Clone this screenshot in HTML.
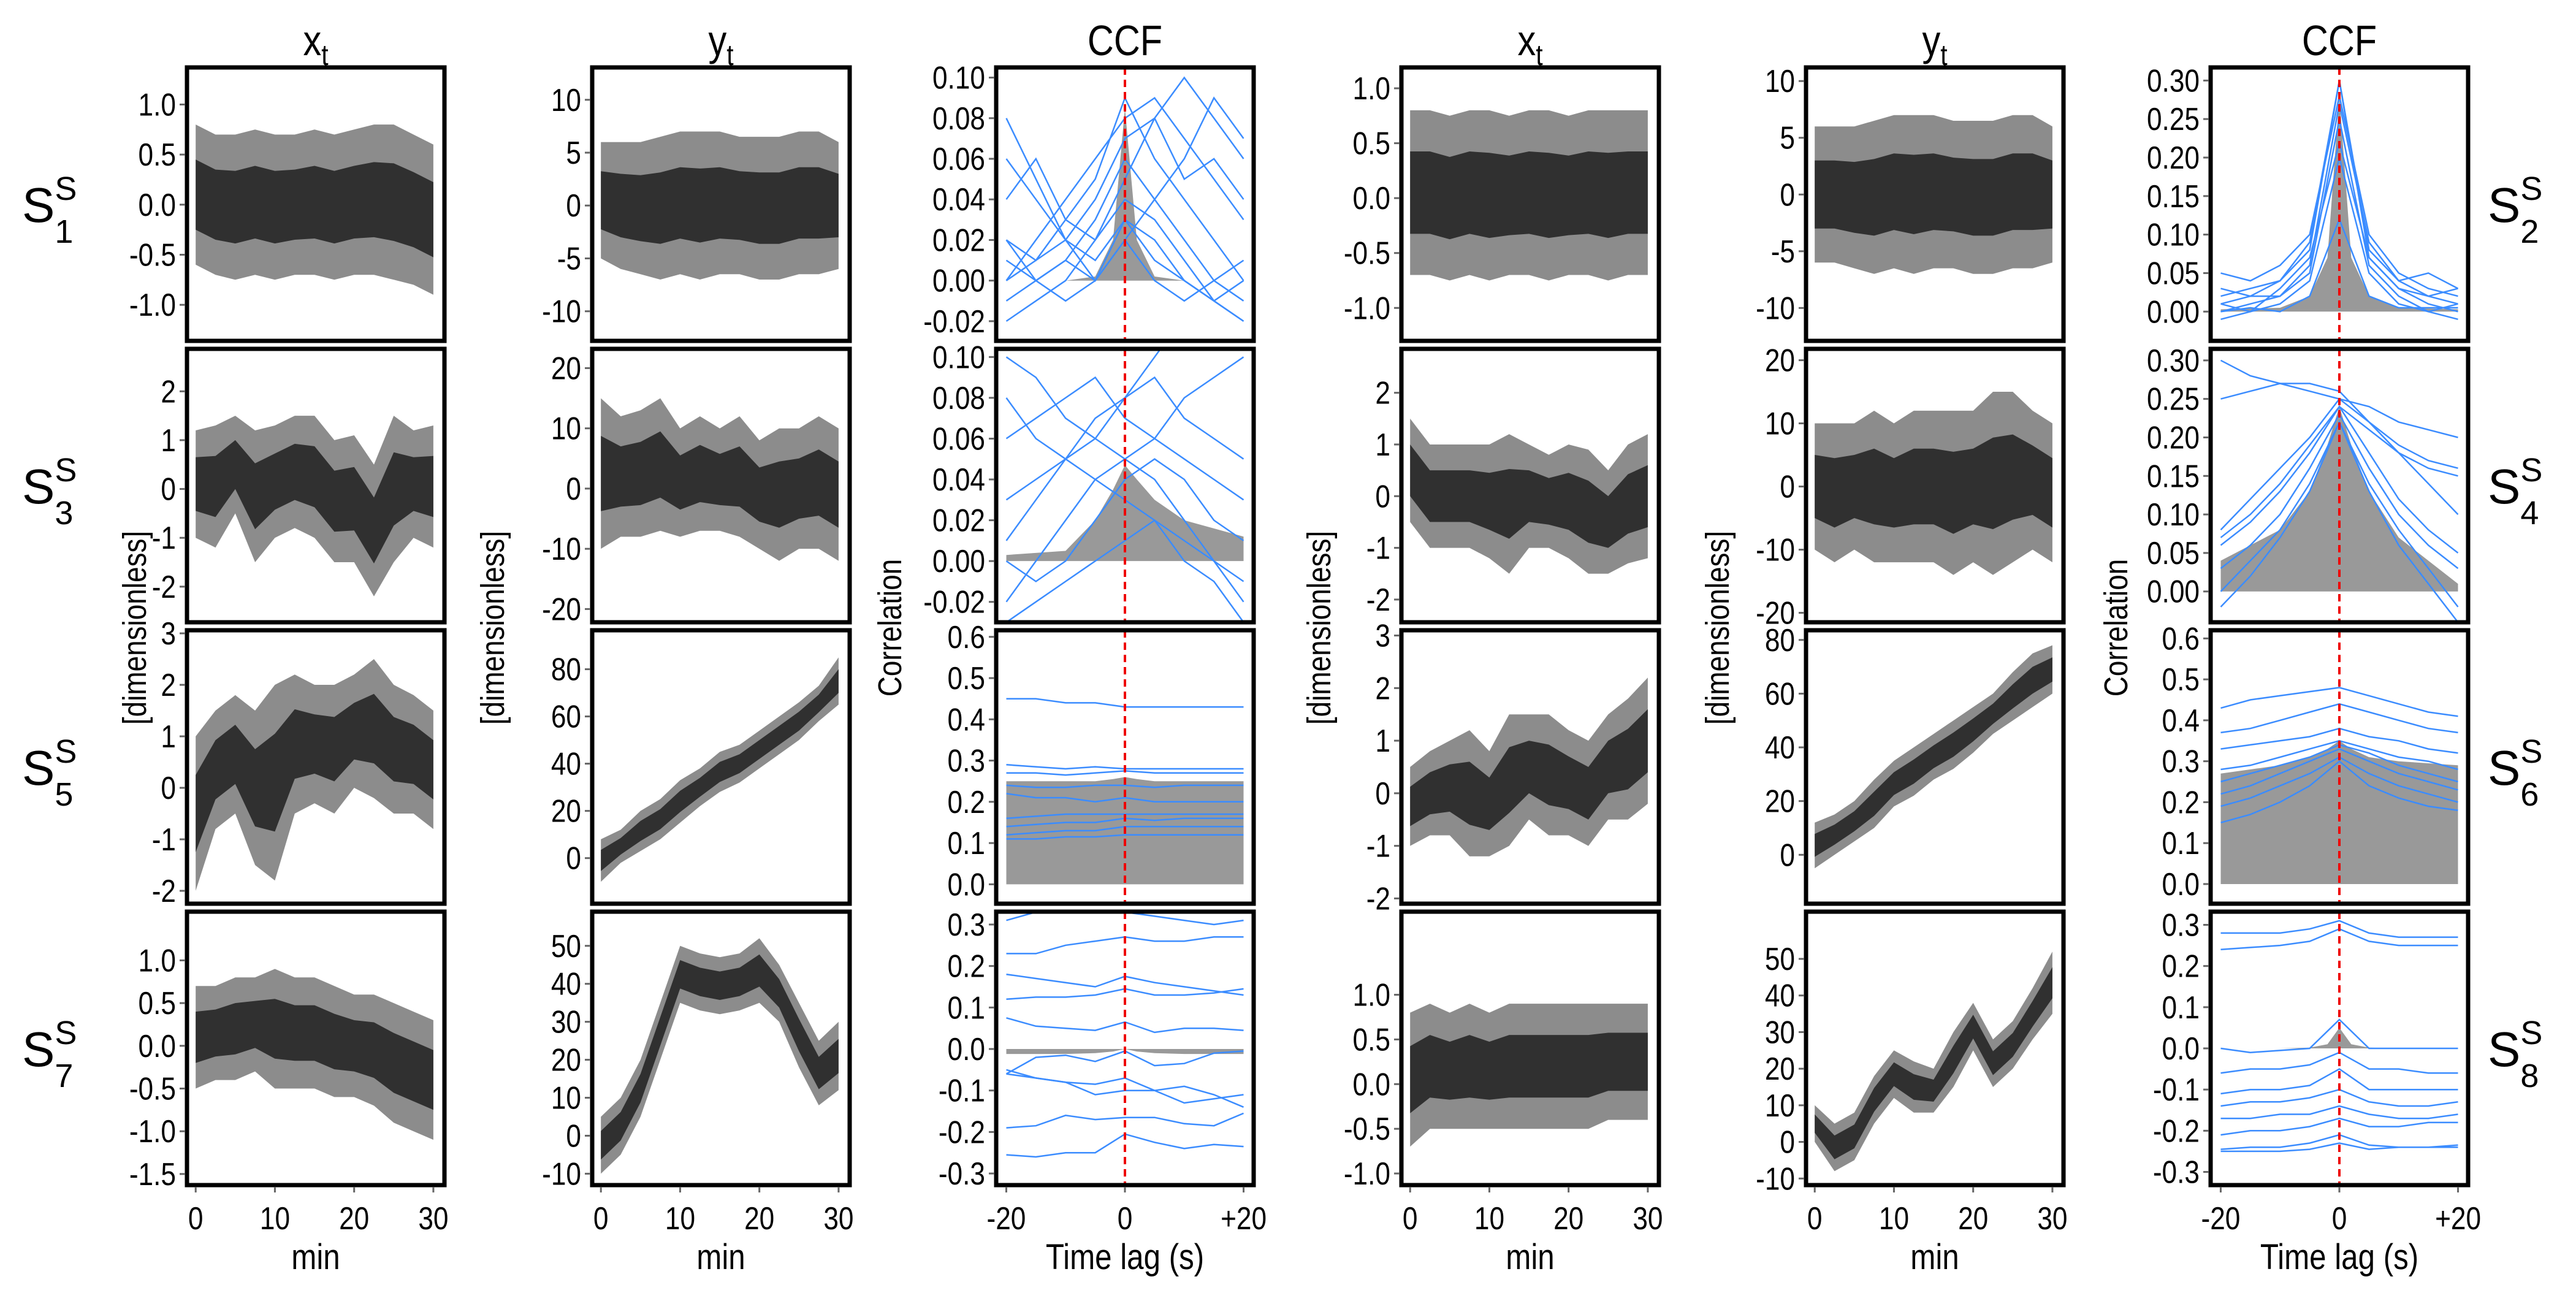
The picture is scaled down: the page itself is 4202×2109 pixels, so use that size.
<!DOCTYPE html>
<html><head><meta charset="utf-8">
<style>
html,body{margin:0;padding:0;background:#fff;}
svg{display:block;font-family:"Liberation Sans",sans-serif;}
</style></head>
<body>
<svg id="fig" xmlns="http://www.w3.org/2000/svg" width="4202" height="2109" viewBox="0 0 4202 2109">
<rect x="0" y="0" width="4202" height="2109" fill="#fff"/>
<g font-size="70" text-anchor="middle" fill="#000">
<text transform="translate(515,90) scale(0.85,1)">x<tspan font-size="48" dy="16">t</tspan></text>
<text transform="translate(1176,90) scale(0.85,1)">y<tspan font-size="48" dy="16">t</tspan></text>
<text transform="translate(1835,90) scale(0.85,1)">CCF</text>
<text transform="translate(2496,90) scale(0.85,1)">x<tspan font-size="48" dy="16">t</tspan></text>
<text transform="translate(3156,90) scale(0.85,1)">y<tspan font-size="48" dy="16">t</tspan></text>
<text transform="translate(3816,90) scale(0.85,1)">CCF</text>
</g>
<g font-size="54" text-anchor="middle" fill="#000">
<text transform="translate(238,1024) rotate(-90) scale(0.85,1)">[dimensionless]</text>
<text transform="translate(822,1024) rotate(-90) scale(0.85,1)">[dimensionless]</text>
<text transform="translate(1470,1024) rotate(-90) scale(0.85,1)">Correlation</text>
<text transform="translate(2170,1024) rotate(-90) scale(0.85,1)">[dimensionless]</text>
<text transform="translate(2820,1024) rotate(-90) scale(0.85,1)">[dimensionless]</text>
<text transform="translate(3470,1024) rotate(-90) scale(0.85,1)">Correlation</text>
</g>
<g font-size="58" text-anchor="middle" fill="#000">
<text transform="translate(515,2070) scale(0.85,1)">min</text>
<text transform="translate(1176,2070) scale(0.85,1)">min</text>
<text transform="translate(1835,2070) scale(0.85,1)">Time lag (s)</text>
<text transform="translate(2496,2070) scale(0.85,1)">min</text>
<text transform="translate(3156,2070) scale(0.85,1)">min</text>
<text transform="translate(3816,2070) scale(0.85,1)">Time lag (s)</text>
</g>
<g font-size="80" fill="#000">
<text x="36" y="362">S<tspan font-size="54" dy="-36">S</tspan><tspan font-size="54" dx="-36" dy="70">1</tspan></text>
<text x="36" y="821">S<tspan font-size="54" dy="-36">S</tspan><tspan font-size="54" dx="-36" dy="70">3</tspan></text>
<text x="36" y="1280">S<tspan font-size="54" dy="-36">S</tspan><tspan font-size="54" dx="-36" dy="70">5</tspan></text>
<text x="36" y="1739">S<tspan font-size="54" dy="-36">S</tspan><tspan font-size="54" dx="-36" dy="70">7</tspan></text>
<text x="4058" y="362">S<tspan font-size="54" dy="-36">S</tspan><tspan font-size="54" dx="-36" dy="70">2</tspan></text>
<text x="4058" y="821">S<tspan font-size="54" dy="-36">S</tspan><tspan font-size="54" dx="-36" dy="70">4</tspan></text>
<text x="4058" y="1280">S<tspan font-size="54" dy="-36">S</tspan><tspan font-size="54" dx="-36" dy="70">6</tspan></text>
<text x="4058" y="1739">S<tspan font-size="54" dy="-36">S</tspan><tspan font-size="54" dx="-36" dy="70">8</tspan></text>
</g>
<g id="panels"></g>
</svg>
<script>
// ---------- data ----------
const timeGrid = [0,2.5,5,7.5,10,12.5,15,17.5,20,22.5,25,27.5,30];
const lagGrid = [-20,-15,-10,-5,0,5,10,15,20];
const grayLags = [-20,-10,-5,-2,0,2,5,10,20];
const timeTicks = [0,10,20,30];
const lagTicks = [-20,0,20];
const lagTickLabels = ["-20","0","+20"];

const s1xUpper = [0.8,0.7,0.7,0.75,0.7,0.7,0.75,0.7,0.75,0.8,0.8,0.7,0.6];
const s1xLower = [-0.6,-0.7,-0.75,-0.7,-0.75,-0.7,-0.7,-0.75,-0.7,-0.7,-0.75,-0.8,-0.9];
const s3xUpper = [1.2,1.3,1.5,1.2,1.3,1.5,1.5,1.0,1.1,0.5,1.5,1.2,1.3];
const s3xLower = [-1.0,-1.2,-0.5,-1.5,-1.0,-0.8,-1.0,-1.5,-1.5,-2.2,-1.5,-1.0,-1.2];
const s5xUpper = [1.0,1.5,1.8,1.5,2.0,2.2,2.0,2.0,2.2,2.5,2.0,1.8,1.5];
const s5xLower = [-2.0,-0.8,-0.5,-1.5,-1.8,-0.5,-0.3,-0.5,0.0,-0.2,-0.5,-0.5,-0.8];
const s7xUpper = [0.7,0.7,0.8,0.8,0.9,0.8,0.8,0.7,0.6,0.6,0.5,0.4,0.3];
const s7xLower = [-0.5,-0.4,-0.4,-0.3,-0.5,-0.5,-0.5,-0.6,-0.6,-0.7,-0.9,-1.0,-1.1];
const s1yUpper = [6,6,6,6.5,7,7,7,6.5,6.5,6.5,7,7,6];
const s1yLower = [-5,-6,-6.5,-7,-6.5,-7,-6.5,-6.5,-7,-7,-6.5,-6.5,-6];
const s3yUpper = [15,12,13,15,10,12,10,12,8,10,10,12,10];
const s3yLower = [-10,-8,-8,-7,-8,-7,-7,-8,-10,-12,-10,-10,-12];
const s5yUpper = [8,12,20,25,33,38,45,48,54,60,66,73,85];
const s5yLower = [-10,-2,3,8,15,22,28,32,38,44,50,58,65];
const s7yUpper = [5,10,20,35,50,48,47,48,52,45,35,25,30];
const s7yLower = [-10,-5,5,20,35,33,32,33,35,30,18,8,12];
const s2xUpper = [0.8,0.8,0.75,0.8,0.8,0.75,0.8,0.8,0.75,0.8,0.8,0.8,0.8];
const s2xLower = [-0.7,-0.7,-0.75,-0.7,-0.75,-0.7,-0.7,-0.75,-0.7,-0.7,-0.75,-0.7,-0.7];
const s4xUpper = [1.5,1.0,1.0,1.0,1.0,1.2,1.0,0.8,1.0,0.9,0.5,1.0,1.2];
const s4xLower = [-0.5,-1.0,-1.0,-1.0,-1.2,-1.5,-1.0,-1.0,-1.2,-1.5,-1.5,-1.3,-1.2];
const s6xUpper = [0.5,0.8,1.0,1.2,0.8,1.5,1.5,1.5,1.2,1.0,1.5,1.8,2.2];
const s6xLower = [-1.0,-0.8,-0.8,-1.2,-1.2,-1.0,-0.5,-0.8,-0.8,-1.0,-0.5,-0.5,-0.2];
const s8xUpper = [0.8,0.9,0.8,0.9,0.8,0.9,0.9,0.9,0.9,0.9,0.9,0.9,0.9];
const s8xLower = [-0.7,-0.5,-0.5,-0.5,-0.5,-0.5,-0.5,-0.5,-0.5,-0.5,-0.4,-0.4,-0.4];
const s2yUpper = [6,6,6,6.5,7,7,7,6.5,6.5,6.5,7,7,6];
const s2yLower = [-6,-6,-6.5,-7,-6.5,-7,-6.5,-6.5,-7,-7,-6.5,-6.5,-6];
const s4yUpper = [10,10,10,12,10,12,12,12,12,15,15,12,10];
const s4yLower = [-10,-12,-10,-12,-12,-12,-12,-14,-12,-14,-12,-10,-12];
const s6yUpper = [12,15,20,28,35,40,45,50,55,60,68,75,78];
const s6yLower = [-5,0,5,10,18,22,28,32,38,45,50,55,60];
const s8yUpper = [10,5,8,18,25,22,20,30,38,28,33,42,52];
const s8yLower = [0,-8,-5,5,12,8,8,15,25,15,20,28,35];

const ccf1Gray = [0,0,0.002,0.02,0.085,0.02,0.002,0,0];
const ccf1Lines = [
 [0.02,0.01,0.03,0.05,0.09,0.06,0.04,0.02,0.0],
 [0.0,0.02,0.04,0.06,0.08,0.09,0.07,0.05,0.03],
 [-0.01,0.0,0.01,0.03,0.06,0.04,0.02,0.0,-0.01],
 [0.04,0.06,0.03,0.02,0.05,0.08,0.10,0.08,0.06],
 [0.01,0.0,-0.01,0.0,0.03,0.01,0.0,-0.01,0.0],
 [0.06,0.04,0.02,0.0,0.02,0.04,0.06,0.09,0.07],
 [-0.02,-0.01,0.0,0.02,0.04,0.03,0.01,-0.01,-0.02],
 [0.08,0.05,0.02,0.01,0.03,0.02,0.0,-0.01,-0.02],
 [0.0,0.01,0.02,0.04,0.07,0.08,0.05,0.06,0.04],
 [0.02,0.0,0.01,0.0,0.02,0.0,-0.01,0.0,0.01]];
const ccf3Gray = [0.003,0.005,0.02,0.035,0.047,0.04,0.03,0.02,0.012];
const ccf3Lines = [
 [0.10,0.09,0.07,0.06,0.05,0.04,0.02,0.0,-0.02],
 [0.06,0.07,0.08,0.09,0.07,0.06,0.05,0.04,0.03],
 [-0.02,0.0,0.02,0.04,0.05,0.06,0.08,0.09,0.10],
 [0.03,0.04,0.05,0.04,0.03,0.02,0.0,-0.01,-0.03],
 [0.01,0.03,0.05,0.07,0.08,0.10,0.12,0.13,0.14],
 [0.0,-0.01,0.0,0.02,0.04,0.05,0.04,0.02,0.01],
 [-0.03,-0.02,-0.01,0.0,0.01,0.02,0.01,0.0,-0.01],
 [0.08,0.06,0.05,0.06,0.08,0.09,0.07,0.06,0.05]];
const ccf5Gray = [0.25,0.25,0.25,0.255,0.26,0.255,0.25,0.25,0.25];
const ccf5Lines = [
 [0.45,0.45,0.44,0.44,0.43,0.43,0.43,0.43,0.43],
 [0.29,0.285,0.28,0.285,0.28,0.28,0.28,0.28,0.28],
 [0.27,0.27,0.265,0.27,0.275,0.27,0.27,0.27,0.27],
 [0.24,0.235,0.235,0.24,0.24,0.235,0.24,0.24,0.24],
 [0.22,0.21,0.21,0.2,0.21,0.2,0.2,0.2,0.2],
 [0.16,0.165,0.17,0.17,0.17,0.17,0.17,0.17,0.17],
 [0.14,0.145,0.15,0.15,0.16,0.155,0.16,0.16,0.16],
 [0.12,0.125,0.13,0.13,0.14,0.14,0.14,0.14,0.14],
 [0.11,0.11,0.115,0.115,0.12,0.12,0.12,0.12,0.12]];
const ccf7Gray = [-0.012,-0.012,-0.01,-0.006,0,-0.006,-0.01,-0.012,-0.012];
const ccf7Lines = [
 [0.31,0.33,0.34,0.33,0.33,0.32,0.31,0.30,0.31],
 [0.23,0.23,0.25,0.26,0.27,0.26,0.26,0.27,0.27],
 [0.18,0.17,0.16,0.15,0.175,0.16,0.15,0.14,0.13],
 [0.12,0.125,0.125,0.13,0.145,0.13,0.13,0.135,0.145],
 [0.075,0.055,0.05,0.045,0.065,0.04,0.05,0.05,0.045],
 [-0.06,-0.02,-0.015,-0.03,-0.005,-0.04,-0.035,-0.01,-0.005],
 [-0.06,-0.07,-0.08,-0.085,-0.07,-0.1,-0.09,-0.11,-0.14],
 [-0.05,-0.07,-0.08,-0.11,-0.1,-0.1,-0.13,-0.12,-0.11],
 [-0.19,-0.185,-0.16,-0.17,-0.165,-0.165,-0.18,-0.185,-0.155],
 [-0.255,-0.26,-0.25,-0.25,-0.205,-0.225,-0.24,-0.23,-0.235]];
const ccf2Gray = [0.003,0.005,0.02,0.07,0.28,0.07,0.02,0.005,0.003];
const ccf2Lines = [
 [0.02,0.03,0.04,0.08,0.30,0.08,0.04,0.02,0.01],
 [0.05,0.04,0.06,0.10,0.28,0.10,0.05,0.03,0.02],
 [0.0,0.01,0.02,0.05,0.25,0.06,0.02,0.0,0.01],
 [0.01,0.0,0.03,0.07,0.22,0.07,0.03,0.02,0.03],
 [-0.01,0.0,0.01,0.04,0.20,0.05,0.01,0.0,-0.01],
 [0.03,0.02,0.02,0.06,0.27,0.09,0.04,0.05,0.03],
 [0.0,0.005,0.0,0.02,0.12,0.02,0.005,0.005,0.005],
 [0.01,0.02,0.04,0.09,0.30,0.07,0.03,0.01,0.0]];
const ccf4Gray = [0.04,0.08,0.13,0.19,0.24,0.19,0.13,0.07,0.01];
const ccf4Lines = [
 [0.30,0.28,0.27,0.26,0.25,0.24,0.22,0.21,0.20],
 [0.25,0.26,0.27,0.27,0.26,0.22,0.18,0.16,0.15],
 [0.08,0.12,0.16,0.20,0.25,0.22,0.19,0.17,0.16],
 [0.06,0.09,0.13,0.18,0.24,0.18,0.12,0.08,0.05],
 [0.03,0.06,0.10,0.16,0.23,0.16,0.10,0.06,0.03],
 [0.00,0.04,0.08,0.14,0.22,0.14,0.08,0.03,-0.02],
 [-0.02,0.02,0.07,0.13,0.22,0.13,0.06,0.01,-0.04],
 [0.07,0.10,0.14,0.19,0.24,0.21,0.18,0.14,0.10]];
const ccf6Gray = [0.27,0.29,0.31,0.33,0.35,0.33,0.31,0.30,0.29];
const ccf6Lines = [
 [0.43,0.45,0.46,0.47,0.48,0.46,0.44,0.42,0.41],
 [0.37,0.38,0.40,0.42,0.44,0.42,0.40,0.38,0.37],
 [0.33,0.34,0.35,0.36,0.38,0.36,0.35,0.33,0.32],
 [0.28,0.29,0.31,0.33,0.35,0.33,0.31,0.30,0.28],
 [0.25,0.27,0.29,0.31,0.34,0.32,0.29,0.27,0.25],
 [0.22,0.24,0.27,0.30,0.33,0.30,0.27,0.25,0.23],
 [0.19,0.21,0.24,0.27,0.31,0.27,0.24,0.22,0.20],
 [0.15,0.17,0.20,0.24,0.30,0.24,0.21,0.19,0.18]];
const ccf8Gray = [0,0,0.002,0.01,0.05,0.01,0.002,0,0];
const ccf8Lines = [
 [0.28,0.28,0.28,0.29,0.31,0.28,0.27,0.27,0.27],
 [0.24,0.245,0.25,0.26,0.29,0.26,0.25,0.25,0.25],
 [0.0,-0.01,-0.005,0.0,0.07,0.0,0.0,0.0,0.0],
 [-0.06,-0.05,-0.05,-0.04,-0.01,-0.05,-0.05,-0.06,-0.06],
 [-0.11,-0.1,-0.1,-0.09,-0.05,-0.1,-0.1,-0.1,-0.1],
 [-0.14,-0.13,-0.13,-0.12,-0.1,-0.13,-0.14,-0.14,-0.13],
 [-0.17,-0.17,-0.16,-0.16,-0.14,-0.16,-0.17,-0.17,-0.16],
 [-0.21,-0.2,-0.2,-0.19,-0.17,-0.19,-0.19,-0.18,-0.18],
 [-0.245,-0.24,-0.24,-0.23,-0.21,-0.235,-0.24,-0.24,-0.235],
 [-0.25,-0.25,-0.25,-0.245,-0.23,-0.245,-0.24,-0.24,-0.24]];

const ticksX1 = [-1,-0.5,0,0.5,1];
const ticksX2 = [-2,-1,0,1,2];
const ticksX3 = [-2,-1,0,1,2,3];
const ticksX4 = [-1.5,-1,-0.5,0,0.5,1];
const ticksY1 = [-10,-5,0,5,10];
const ticksY2 = [-20,-10,0,10,20];
const ticksY3 = [0,20,40,60,80];
const ticksY4 = [-10,0,10,20,30,40,50];
const ticksCcfA = [-0.02,0,0.02,0.04,0.06,0.08,0.10];
const ticksCcfB = [0,0.1,0.2,0.3,0.4,0.5,0.6];
const ticksCcfC = [-0.3,-0.2,-0.1,0,0.1,0.2,0.3];
const ticksCcfD = [0,0.05,0.1,0.15,0.2,0.25,0.3];

// ---------- layout ----------
const COLX = [305,966,1625,2286,2946,3606], PW = 420;
const ROWY = [110,569,1028,1487], PH = 446;
const panels = [
 {c:0,r:0,k:'ts',n:'s1-x',up:s1xUpper,lo:s1xLower,y0:-1.36,y1:1.37,t:ticksX1,d:1},
 {c:0,r:1,k:'ts',n:'s3-x',up:s3xUpper,lo:s3xLower,y0:-2.73,y1:2.87,t:ticksX2,d:0},
 {c:0,r:2,k:'ts',n:'s5-x',up:s5xUpper,lo:s5xLower,y0:-2.25,y1:3.06,t:ticksX3,d:0},
 {c:0,r:3,k:'ts',n:'s7-x',up:s7xUpper,lo:s7xLower,y0:-1.63,y1:1.57,t:ticksX4,d:1},
 {c:1,r:0,k:'ts',n:'s1-y',up:s1yUpper,lo:s1yLower,y0:-12.8,y1:13.06,t:ticksY1,d:0},
 {c:1,r:1,k:'ts',n:'s3-y',up:s3yUpper,lo:s3yLower,y0:-22.2,y1:23.2,t:ticksY2,d:0},
 {c:1,r:2,k:'ts',n:'s5-y',up:s5yUpper,lo:s5yLower,y0:-19.3,y1:96.5,t:ticksY3,d:0},
 {c:1,r:3,k:'ts',n:'s7-y',up:s7yUpper,lo:s7yLower,y0:-13,y1:59,t:ticksY4,d:0},
 {c:2,r:0,k:'ccf',n:'s1-ccf',g:ccf1Gray,l:ccf1Lines,y0:-0.0297,y1:0.105,t:ticksCcfA,d:2},
 {c:2,r:1,k:'ccf',n:'s3-ccf',g:ccf3Gray,l:ccf3Lines,y0:-0.030,y1:0.104,t:ticksCcfA,d:2},
 {c:2,r:2,k:'ccf',n:'s5-ccf',g:ccf5Gray,l:ccf5Lines,y0:-0.047,y1:0.616,t:ticksCcfB,d:1},
 {c:2,r:3,k:'ccf',n:'s7-ccf',g:ccf7Gray,l:ccf7Lines,y0:-0.328,y1:0.331,t:ticksCcfC,d:1},
 {c:3,r:0,k:'ts',n:'s2-x',up:s2xUpper,lo:s2xLower,y0:-1.3,y1:1.19,t:ticksX1,d:1},
 {c:3,r:1,k:'ts',n:'s4-x',up:s4xUpper,lo:s4xLower,y0:-2.44,y1:2.85,t:ticksX2,d:0},
 {c:3,r:2,k:'ts',n:'s6-x',up:s6xUpper,lo:s6xLower,y0:-2.1,y1:3.1,t:ticksX3,d:0},
 {c:3,r:3,k:'ts',n:'s8-x',up:s8xUpper,lo:s8xLower,y0:-1.13,y1:1.93,t:ticksX1,d:1},
 {c:4,r:0,k:'ts',n:'s2-y',up:s2yUpper,lo:s2yLower,y0:-12.9,y1:11.2,t:ticksY1,d:0},
 {c:4,r:1,k:'ts',n:'s4-y',up:s4yUpper,lo:s4yLower,y0:-21.5,y1:21.8,t:ticksY2,d:0},
 {c:4,r:2,k:'ts',n:'s6-y',up:s6yUpper,lo:s6yLower,y0:-18.2,y1:83.6,t:ticksY3,d:0},
 {c:4,r:3,k:'ts',n:'s8-y',up:s8yUpper,lo:s8yLower,y0:-11.8,y1:62.9,t:ticksY4,d:0},
 {c:5,r:0,k:'ccf',n:'s2-ccf',g:ccf2Gray,l:ccf2Lines,y0:-0.038,y1:0.317,t:ticksCcfD,d:2},
 {c:5,r:1,k:'ccf',n:'s4-ccf',g:ccf4Gray,l:ccf4Lines,y0:-0.04,y1:0.315,t:ticksCcfD,d:2},
 {c:5,r:2,k:'ccf',n:'s6-ccf',g:ccf6Gray,l:ccf6Lines,y0:-0.048,y1:0.62,t:ticksCcfB,d:1},
 {c:5,r:3,k:'ccf',n:'s8-ccf',g:ccf8Gray,l:ccf8Lines,y0:-0.332,y1:0.332,t:ticksCcfC,d:1}
];

const NS = 'http://www.w3.org/2000/svg';
const root = document.getElementById('panels');
function mk(tag, attrs, parent){
  const e = document.createElementNS(NS, tag);
  for (const k in attrs) e.setAttribute(k, attrs[k]);
  parent.appendChild(e);
  return e;
}
function fmt(v,d){ return (Math.abs(v)<1e-9?0:v).toFixed(d); }

panels.forEach((p,i)=>{
  const x0 = COLX[p.c], y0 = ROWY[p.r];
  const g = mk('g', {}, root);
  
  
  const xMin = p.k==='ts' ? -1.1 : -21.7, xMax = p.k==='ts' ? 31.4 : 21.7;
  const sx = v => x0 + (v - xMin)/(xMax - xMin)*PW;
  const sy = v => y0 + (p.y1 - v)/(p.y1 - p.y0)*PH;
  const cid = 'clip'+i;
  const cp = mk('clipPath', {id:cid}, g);
  mk('rect', {x:x0, y:y0, width:PW, height:PH}, cp);
  const plot = mk('g', {'clip-path':'url(#'+cid+')'}, g);
  
  

  if (p.k==='ts'){
    const up = [], lo = [];
    timeGrid.forEach((t,j)=>{ up.push([sx(t), sy(p.up[j])]); lo.push([sx(t), sy(p.lo[j])]); });
    const outer = up.concat(lo.slice().reverse()).map(q=>q[0].toFixed(1)+','+q[1].toFixed(1)).join(' ');
    const iu = [], il = [];
    timeGrid.forEach((t,j)=>{
      const m = (p.up[j]+p.lo[j])/2, h = (p.up[j]-p.lo[j])/2*0.5;
      iu.push([sx(t), sy(m+h)]); il.push([sx(t), sy(m-h)]);
    });
    const inner = iu.concat(il.slice().reverse()).map(q=>q[0].toFixed(1)+','+q[1].toFixed(1)).join(' ');
    const o = mk('polygon', {points:outer, fill:'#8c8c8c'}, plot);
    
    
    const ii = mk('polygon', {points:inner, fill:'#303030'}, plot);
    
    
  } else {
    let pts = sx(grayLags[0]).toFixed(1)+','+sy(0).toFixed(1);
    grayLags.forEach((l,j)=>{ pts += ' '+sx(l).toFixed(1)+','+sy(p.g[j]).toFixed(1); });
    pts += ' '+sx(grayLags[grayLags.length-1]).toFixed(1)+','+sy(0).toFixed(1);
    const ga = mk('polygon', {points:pts, fill:'#999'}, plot);
    
    
    p.l.forEach((line,li)=>{
      const d = line.map((v,j)=>(j?'L':'M')+sx(lagGrid[j]).toFixed(1)+','+sy(v).toFixed(1)).join(' ');
      const pl = mk('path', {d:d, fill:'none', stroke:'#3b8cff', 'stroke-width':2.5}, plot);
      
      
    });
    const rl = mk('line', {x1:sx(0), x2:sx(0), y1:y0, y2:y0+PH, stroke:'#e00', 'stroke-width':4, 'stroke-dasharray':'12,8'}, plot);
    
    
  }
  const box = mk('rect', {x:x0, y:y0, width:PW, height:PH, fill:'none', stroke:'#000', 'stroke-width':7}, g);
  
  

  p.t.forEach(v=>{
    const yy = sy(v);
    const tk = mk('line', {x1:x0-12, x2:x0-3, y1:yy, y2:yy, stroke:'#666', 'stroke-width':3}, g);
    
    
    const tl = mk('text', {transform:'translate('+(x0-18)+','+(yy+18)+') scale(0.85,1)', 'text-anchor':'end', 'font-size':52}, g);
    tl.textContent = fmt(v,p.d);
    
    
  });
  if (p.r===3){
    const tv = p.k==='ts' ? timeTicks : lagTicks;
    tv.forEach((v,j)=>{
      const xx = sx(v);
      const tk = mk('line', {x1:xx, x2:xx, y1:y0+PH+3, y2:y0+PH+12, stroke:'#666', 'stroke-width':3}, g);
      
      
      const tl = mk('text', {transform:'translate('+xx+','+(y0+PH+72)+') scale(0.85,1)', 'text-anchor':'middle', 'font-size':52}, g);
      tl.textContent = p.k==='ts' ? String(v) : lagTickLabels[j];
      
      
    });
  }
});
</script>
</body></html>
